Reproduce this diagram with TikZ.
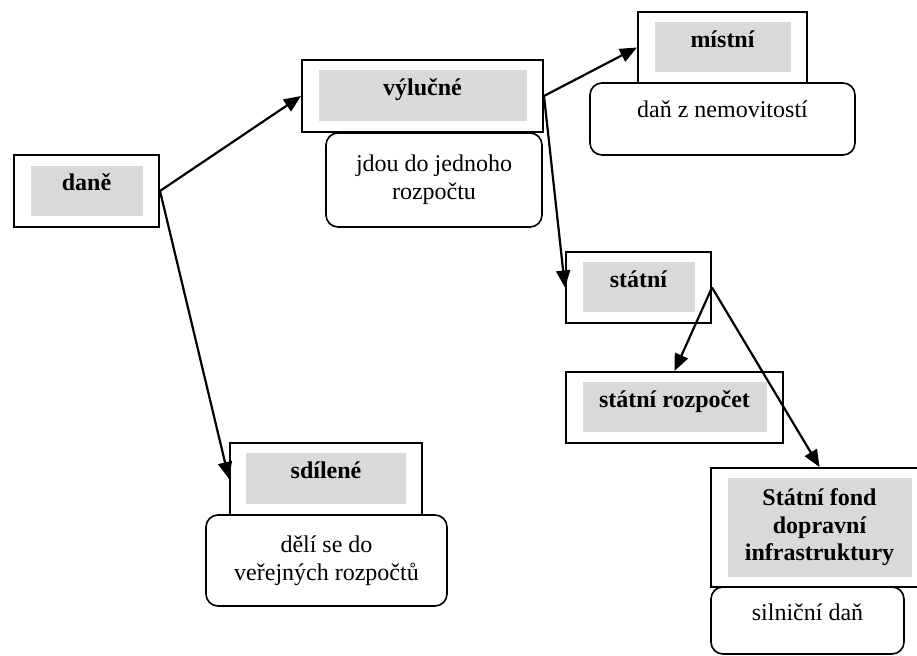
\documentclass[tikz,border=0pt]{standalone}
\usepackage{fontspec}
\setmainfont{Liberation Serif}
\usetikzlibrary{arrows.meta}
\definecolor{seda}{RGB}{217,217,217}
\newcommand{\velikost}{\fontsize{12pt}{13.8pt}\selectfont}

\tikzset{
  ramec/.style={draw,line width=1pt,rectangle,inner sep=0pt},
  sede/.style={fill=seda,inner sep=0pt,font=\velikost\bfseries,align=center},
  radek/.style={fill=seda,inner sep=0pt,font=\velikost\bfseries,text height=9pt,text depth=9pt},
  popis/.style={draw,fill=white,line width=0.8pt,rounded corners=6pt,inner sep=0pt,align=center,font=\velikost},
  sipka/.style={-{Triangle[length=8.5pt,width=7pt]},line width=1.1pt}
}

\begin{document}
\begin{tikzpicture}[x=0.5pt,y=-0.5pt]
\useasboundingbox (0,0) rectangle (917,656);

% ramecky
\node[ramec,minimum width=72.5pt,minimum height=36pt]   (dane)     at (86.5,191)   {};
\node[ramec,minimum width=120.5pt,minimum height=36pt]  (vylucne)  at (422.5,96)   {};
\node[ramec,minimum width=84.5pt,minimum height=35.5pt] (mistni)   at (722.5,47.5) {};
\node[ramec,minimum width=72.5pt,minimum height=35.5pt] (statni)   at (638.5,287.5){};
\node[ramec,minimum width=108.5pt,minimum height=35.5pt](rozpocet) at (674.5,407.5){};
\node[ramec,minimum width=96pt,minimum height=36pt]     (sdilene)  at (326,479)    {};
\node[ramec,minimum width=108.5pt,minimum height=59.5pt](fond)     at (819.5,527.5){};

% popisky
\node[popis,minimum width=108pt,minimum height=47pt]     (vylucneP) at (434,180)   {jdou do jednoho\\rozpočtu};
\node[popis,minimum width=132.5pt,minimum height=36pt,text height=8pt,text depth=9.6pt] (mistniP) at (722.5,119) {daň z nemovitostí};
\node[popis,minimum width=120.5pt,minimum height=45.5pt] (sdileneP) at (326.5,560.5){dělí se do\\veřejných rozpočtů};
\node[popis,minimum width=96.5pt,minimum height=33.5pt,text height=9pt,text depth=9pt] (fondP) at (807.5,620.5){silniční daň};

% sede pole
\node[radek,minimum width=56pt,minimum height=25pt]   (daneS)     at (dane)     {daně};
\node[radek,minimum width=104pt,minimum height=25.5pt](vylucneS)  at (vylucne)  {výlučné};
\node[radek,minimum width=68pt,minimum height=25pt]   (mistniS)   at (mistni)   {místní};
\node[radek,minimum width=56pt,minimum height=25pt]   (statniS)   at (statni)   {státní};
\node[radek,minimum width=92pt,minimum height=25pt]   (rozpocetS) at (rozpocet) {státní rozpočet};
\node[radek,minimum width=80pt,minimum height=25.5pt] (sdileneS)  at (sdilene)  {sdílené};
\node[sede,minimum width=92pt,minimum height=49.5pt]  (fondS)     at (fond)     {Státní fond\\dopravní\\infrastruktury};

% sipky
\draw[sipka] (dane.east) -- (vylucne.west);
\draw[sipka] (dane.east) -- (sdilene.west);
\draw[sipka] (vylucne.east) -- (mistni.west);
\draw[sipka] (vylucne.east) -- (statni.west);
\draw[sipka] (statni.east) -- (rozpocet.north);
\draw[sipka] (statni.east) -- (fond.north);
\end{tikzpicture}
\end{document}
